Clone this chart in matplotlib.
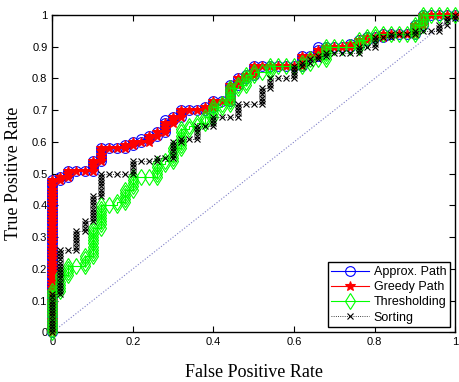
import numpy as np
import matplotlib
matplotlib.use("Agg")
import matplotlib.pyplot as plt

# ROC data: one negative per FPR step (50 negatives), 100 positives.
# For each method, the TPR (in %) reached at each FPR step k/50, k = 0..50.
n_neg = 50
n_pos = 100

approx_tpr = [48, 49, 51, 51, 51, 54, 58, 58, 58, 59, 60, 61, 62, 63, 67, 68, 70,
              70, 70, 71, 73, 73, 78, 80, 81, 84, 84, 84, 84, 84, 84, 87, 87, 90,
              90, 90, 90, 91, 92, 93, 93, 94, 94, 94, 94, 97, 100, 100, 100, 100, 100]
greedy_tpr = [48, 49, 51, 51, 51, 54, 58, 58, 58, 59, 60, 60, 62, 63, 66, 68, 70,
              70, 70, 71, 73, 73, 78, 80, 81, 84, 84, 84, 84, 84, 84, 87, 87, 89,
              90, 90, 90, 91, 92, 93, 93, 94, 94, 94, 94, 97, 100, 100, 100, 100, 100]
thresh_tpr = [13, 18, 21, 21, 24, 33, 40, 40, 41, 45, 49, 49, 49, 53, 54, 58, 64,
              65, 66, 68, 71, 72, 77, 78, 81, 82, 82, 84, 84, 84, 84, 85, 86, 86,
              90, 90, 90, 90, 92, 93, 94, 94, 94, 94, 94, 97, 100, 100, 100, 100, 100]
sort_tpr = [12, 26, 26, 32, 35, 43, 50, 50, 50, 50, 54, 54, 54, 55, 55, 60, 61,
            61, 65, 65, 68, 68, 68, 72, 72, 72, 77, 80, 80, 80, 84, 85, 86, 87,
            88, 88, 88, 88, 90, 90, 93, 93, 94, 94, 94, 95, 95, 95, 97, 99, 100]

labels = ["Approx. Path", "Greedy Path", "Thresholding", "Sorting"]
xticks = [0, 0.2, 0.4, 0.6, 0.8, 1]
xticklabels = ["0", "0.2", "0.4", "0.6", "0.8", "1"]
yticks = [0, 0.1, 0.2, 0.3, 0.4, 0.5, 0.6, 0.7, 0.8, 0.9, 1]
yticklabels = ["0", "0.1", "0.2", "0.3", "0.4", "0.5", "0.6", "0.7", "0.8", "0.9", "1"]


def roc_points(tpr_counts):
    # one ROC point per threshold: each positive adds one TP, each negative one FP
    fpr, tpr = [], []
    prev = 0
    for k, hi in enumerate(tpr_counts):
        for tp in range(prev, hi + 1):
            fpr.append(k / n_neg)
            tpr.append(tp / n_pos)
        prev = hi
    return np.array(fpr), np.array(tpr)


plt.rcParams['font.family'] = ['Liberation Sans', 'DejaVu Sans']
fig = plt.figure(figsize=(4.6, 3.82), dpi=100)
ax = fig.add_axes([0.1137, 0.130, 0.876, 0.8307])

ax.plot([0, 1], [0, 1], ':', color='#7f7fc8', linewidth=0.8)

x, y = roc_points(approx_tpr)
ax.plot(x, y, '-o', color='#0000ff', mfc='none', mec='#0000ff', ms=7, lw=0.8,
        mew=0.8, label=labels[0], clip_on=False)
x, y = roc_points(greedy_tpr)
ax.plot(x, y, '-*', color='#ff0000', ms=7, lw=0.8, mew=0.8, label=labels[1],
        clip_on=False)
x, y = roc_points(thresh_tpr)
ax.plot(x, y, '-d', color='#00ff00', mfc='none', mec='#00ff00', ms=8, lw=0.8,
        mew=0.8, label=labels[2], clip_on=False)
x, y = roc_points(sort_tpr)
ax.plot(x, y, ':x', color='black', ms=5, lw=0.6, mew=0.8, label=labels[3],
        clip_on=False)

ax.set_xlim(0, 1)
ax.set_ylim(0, 1)
ax.set_xticks(xticks)
ax.set_xticklabels(xticklabels)
ax.set_yticks(yticks)
ax.set_yticklabels(yticklabels)
ax.tick_params(direction='in', top=True, right=True, labelsize=8, length=4, width=0.8)
for sp in ax.spines.values():
    sp.set_linewidth(1.0)
    sp.set_zorder(1)

ax.set_xlabel("False Positive Rate", family='Liberation Serif', fontsize=13, labelpad=12)
ax.set_ylabel("True Positive Rate", family='Liberation Serif', fontsize=13, labelpad=7)

leg = ax.legend(loc='lower right', fontsize=9, handlelength=3.0, handletextpad=0.4,
                labelspacing=0.25, borderpad=0.3, borderaxespad=0.4, fancybox=False,
                framealpha=1)
leg.get_frame().set_edgecolor('black')
leg.get_frame().set_linewidth(1.0)

fig.savefig("out.png", dpi=100)
